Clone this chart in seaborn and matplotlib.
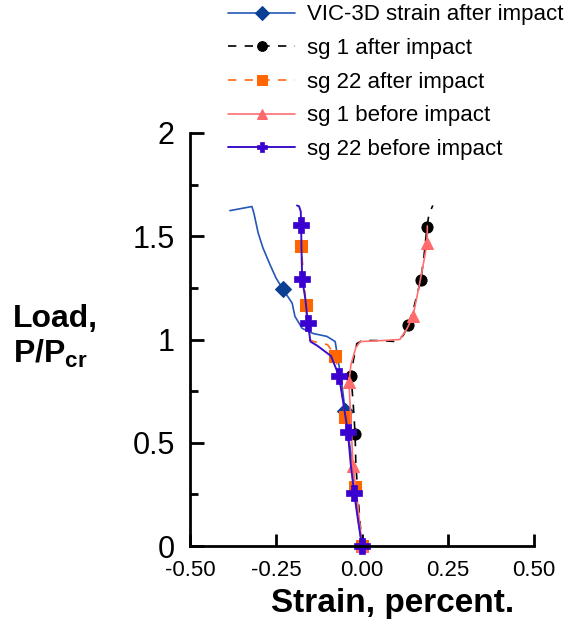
import matplotlib
matplotlib.use("Agg")
import matplotlib.pyplot as plt
import seaborn as sns
import pandas as pd
from matplotlib.ticker import MultipleLocator

sns.set_theme(style="white")
plt.rcParams['font.family'] = ['Liberation Sans', 'DejaVu Sans']
plt.rcParams['mathtext.fontset'] = 'custom'
plt.rcParams['mathtext.rm'] = 'Liberation Sans'
plt.rcParams['mathtext.bf'] = 'Liberation Sans:bold'
plt.rcParams['text.color'] = 'black'
plt.rcParams['axes.labelcolor'] = 'black'
plt.rcParams['xtick.color'] = 'black'
plt.rcParams['ytick.color'] = 'black'

# ---------------- data ----------------
vic_x = [-0.384, -0.320, -0.314, -0.302, -0.288, -0.267, -0.250, -0.230, -0.203, -0.195,
         -0.174, -0.142, -0.102, -0.078, -0.070, -0.061, -0.055, -0.049, -0.035, -0.026,
         -0.020, -0.012, 0.0]
vic_y = [1.624, 1.644, 1.610, 1.517, 1.444, 1.361, 1.298, 1.244, 1.176, 1.112,
         1.054, 1.029, 1.015, 0.990, 0.907, 0.810, 0.737, 0.654, 0.483, 0.371,
         0.239, 0.141, 0.0]
vic_mk = [7, 17]

sg1a_x = [0.0, -0.005, -0.012, -0.018, -0.020, -0.026, -0.032, -0.025, -0.015, 0.0,
          0.05, 0.10, 0.12, 0.134, 0.15, 0.165, 0.171, 0.18, 0.189, 0.195, 0.206]
sg1a_y = [0.0, 0.10, 0.25, 0.40, 0.54, 0.70, 0.824, 0.90, 0.98, 0.995,
          0.995, 0.99, 1.02, 1.068, 1.15, 1.25, 1.288, 1.40, 1.546, 1.61, 1.649]
sg1a_mk = [0, 4, 6, 13, 16, 18]

sg22a_x = [0.0, -0.010, -0.020, -0.035, -0.049, -0.062, -0.078, -0.100, -0.140, -0.155,
           -0.160, -0.163, -0.170, -0.177, -0.180]
sg22a_y = [0.0, 0.15, 0.288, 0.46, 0.624, 0.78, 0.922, 0.975, 0.99, 1.0,
           1.06, 1.166, 1.31, 1.454, 1.55]
sg22a_mk = [0, 2, 4, 6, 11, 13]

sg1b_x = [0.0, -0.012, -0.026, -0.032, -0.038, -0.032, -0.018, -0.005, 0.06, 0.11,
          0.13, 0.148, 0.165, 0.18, 0.189, 0.19]
sg1b_y = [0.0, 0.20, 0.385, 0.60, 0.795, 0.88, 0.96, 0.99, 0.995, 1.0,
          1.05, 1.112, 1.25, 1.38, 1.468, 1.55]
sg1b_mk = [0, 2, 4, 11, 14]

sg22b_x = [0.0, -0.012, -0.023, -0.033, -0.041, -0.055, -0.067, -0.090, -0.130, -0.150,
           -0.157, -0.165, -0.174, -0.176, -0.177, -0.178, -0.183, -0.189]
sg22b_y = [0.0, 0.13, 0.259, 0.40, 0.551, 0.70, 0.824, 0.92, 0.97, 0.99,
           1.078, 1.20, 1.293, 1.45, 1.556, 1.62, 1.645, 1.649]
sg22b_mk = [0, 2, 4, 6, 10, 12, 14]

labels = ["VIC-3D strain after impact", "sg 1 after impact", "sg 22 after impact",
          "sg 1 before impact", "sg 22 before impact"]
x_ticks = [-0.50, -0.25, 0.00, 0.25, 0.50]
x_ticklabels = ["-0.50", "-0.25", "0.00", "0.25", "0.50"]
y_ticks = [0, 0.5, 1, 1.5, 2]
y_ticklabels = ["0", "0.5", "1", "1.5", "2"]

# ---------------- figure ----------------
fig = plt.figure(figsize=(5.74, 6.25), dpi=100)
ax = fig.add_axes([190/574, 1-546/625, 344/574, 413/625])

series = [
    (vic_x, vic_y, vic_mk, dict(color="#2457b8", lw=1.2, ls="-", marker="D", ms=8,
                                mfc="#0b3f93", mec="#0b3f93")),
    (sg1a_x, sg1a_y, sg1a_mk, dict(color="black", lw=1.2, dashes=(5, 5), marker="o", ms=8,
                                   mfc="black", mec="black")),
    (sg22a_x, sg22a_y, sg22a_mk, dict(color="#ff6a10", lw=1.2, dashes=(5, 5), marker="s", ms=8,
                                      mfc="#ff6600", mec="#ff6600")),
    (sg1b_x, sg1b_y, sg1b_mk, dict(color="#ff7070", lw=1.2, ls="-", marker="^", ms=9,
                                   mfc="#ff6b6b", mec="#ff6b6b")),
    (sg22b_x, sg22b_y, sg22b_mk, dict(color="#3a10c8", lw=1.4, ls="-", marker="P", ms=12,
                                      mfc="#3a00d0", mec="#3a00d0", mew=0.5)),
]

for (xs, ys, mk, st), lab in zip(series, labels):
    df = pd.DataFrame({"x": xs, "y": ys})
    sns.lineplot(data=df, x="x", y="y", sort=False, estimator=None, ax=ax,
                 markevery=mk, label=lab, **st)

ax.set_xlim(-0.5, 0.5)
ax.set_ylim(0, 2)
ax.set_xticks(x_ticks)
ax.set_xticklabels(x_ticklabels, fontsize=16)
ax.set_yticks(y_ticks)
ax.set_yticklabels(y_ticklabels, fontsize=22)
ax.yaxis.set_minor_locator(MultipleLocator(0.25))
ax.set_xlabel("")
ax.set_ylabel("")
for s in ["top", "right"]:
    ax.spines[s].set_visible(False)
for s in ["bottom", "left"]:
    ax.spines[s].set_visible(True)
    ax.spines[s].set_color("black")
    ax.spines[s].set_linewidth(2)
ax.tick_params(axis="x", which="major", direction="in", length=9, width=2, color="black",
               pad=10, bottom=True, labelcolor="black")
ax.tick_params(axis="y", which="major", direction="in", length=10, width=2, color="black",
               pad=11, left=True, labelcolor="black")
ax.tick_params(axis="y", which="minor", direction="in", length=6, width=2, color="black",
               left=True)
for ln in ax.lines:
    ln.set_clip_on(False)

leg = ax.legend(loc="upper left", bbox_to_anchor=(224/574, 1.0),
                bbox_transform=fig.transFigure, frameon=False, fontsize=16,
                borderaxespad=0, borderpad=0.2,
                handlelength=3.0, handletextpad=0.55, labelspacing=0.57)
for h in leg.legend_handles:
    h.set_markersize(7)
for t in leg.get_texts():
    t.set_color("black")

fig.text(13/574, 1-327/625, "Load,", fontsize=23, fontweight="bold",
         ha="left", va="baseline", color="black")
fig.text(13/574, 1-363/625, r"P/P$_{\mathbf{cr}}$", fontsize=23, fontweight="bold",
         ha="left", va="baseline", color="black")
fig.text(393/574, 1-612/625, "Strain, percent.", fontsize=24, fontweight="bold",
         ha="center", va="baseline", color="black")

fig.savefig("out.png", dpi=100)
